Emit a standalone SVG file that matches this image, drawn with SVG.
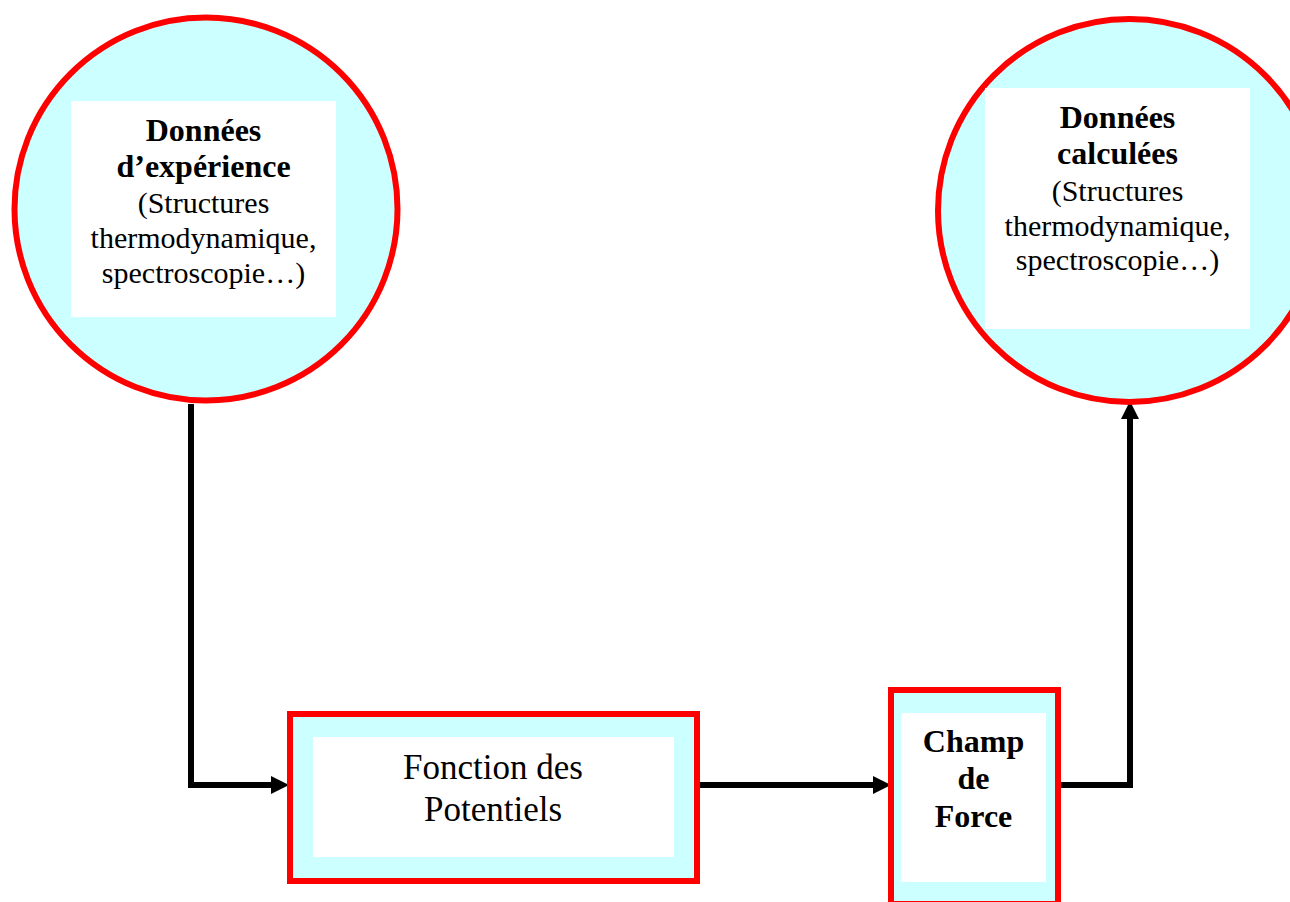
<svg xmlns="http://www.w3.org/2000/svg" width="1290" height="902" viewBox="0 0 1290 902">
<defs>
<style>
.outer{fill:#CCFFFF;stroke:#FF0000;stroke-width:6}
.inner{fill:#FFFFFF;stroke:none}
.b{font-family:"Liberation Serif","Times New Roman",serif;font-weight:bold;font-size:32px;fill:#000;text-anchor:middle}
.r{font-family:"Liberation Serif","Times New Roman",serif;font-size:30px;fill:#000;text-anchor:middle}
.big{font-family:"Liberation Serif","Times New Roman",serif;font-size:35px;fill:#000;text-anchor:middle}
.conn{fill:none;stroke:#000;stroke-width:6;stroke-linejoin:miter;stroke-linecap:butt}
.head{fill:#000;stroke:none}
</style>
</defs>
<rect width="1290" height="902" fill="#FFFFFF"/>
<g id="connectors">
<path class="conn" d="M191,404 L191,785 L274,785"/>
<polygon class="head" points="271,776 289,785 271,794"/>
<path class="conn" d="M700,785 L876,785"/>
<polygon class="head" points="873,776 891,785 873,794"/>
<path class="conn" d="M1061,785 L1130,785 L1130,416"/>
<polygon class="head" points="1121,419 1130,401 1139,419"/>
</g>
<g id="node-experience">
<circle class="outer" cx="206" cy="209" r="191.5"/>
<rect class="inner" x="71" y="101" width="265" height="216"/>
<text class="b" x="203.5" y="141">Données</text>
<text class="b" x="203.5" y="177">d’expérience</text>
<text class="r" x="203.5" y="213">(Structures</text>
<text class="r" x="203.5" y="248">thermodynamique,</text>
<text class="r" x="203.5" y="283">spectroscopie…)</text>
</g>
<g id="node-calculees">
<circle class="outer" cx="1129.5" cy="210.5" r="191.5"/>
<rect class="inner" x="985" y="88" width="265" height="241"/>
<text class="b" x="1117.5" y="128">Données</text>
<text class="b" x="1117.5" y="164">calculées</text>
<text class="r" x="1117.5" y="201">(Structures</text>
<text class="r" x="1117.5" y="236">thermodynamique,</text>
<text class="r" x="1117.5" y="270">spectroscopie…)</text>
</g>
<g id="node-fonction">
<rect class="outer" x="290" y="714" width="407" height="167"/>
<rect class="inner" x="313" y="737" width="361" height="120"/>
<text class="big" x="493" y="779">Fonction des</text>
<text class="big" x="493" y="821">Potentiels</text>
</g>
<g id="node-champ">
<rect class="outer" x="891" y="690" width="167" height="214"/>
<rect class="inner" x="901" y="713" width="145" height="169"/>
<text class="b" x="973.5" y="752">Champ</text>
<text class="b" x="973.5" y="789">de</text>
<text class="b" x="973.5" y="827">Force</text>
</g>
</svg>
